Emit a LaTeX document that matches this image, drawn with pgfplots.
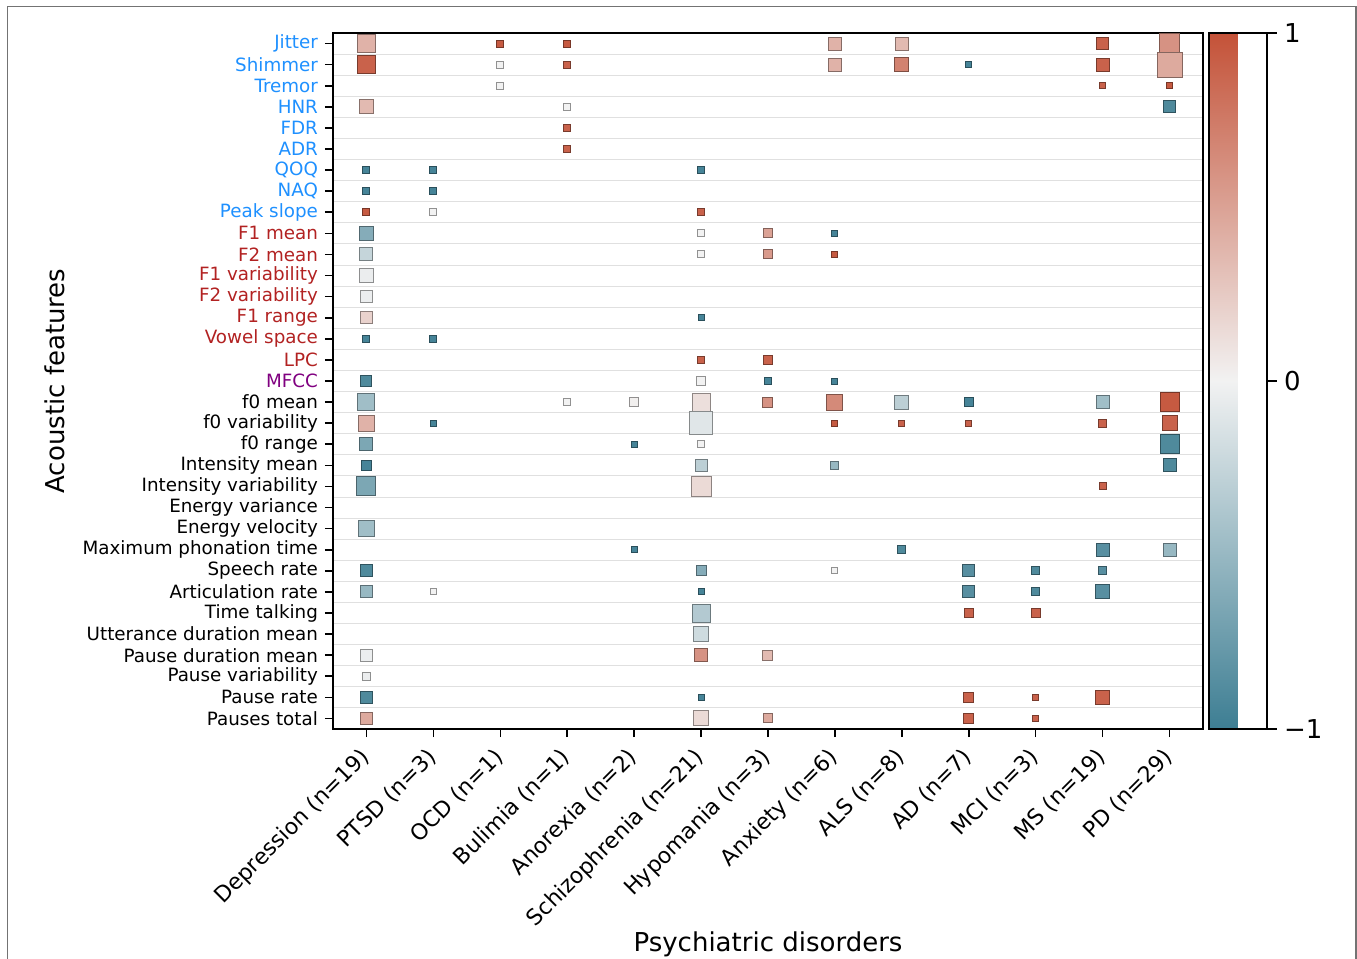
\documentclass[border=0pt]{standalone}
\usepackage{pgfplots}
\pgfplotsset{compat=1.18}
\usepackage{pgfplotstable}
\usepackage{fontspec}
\setmainfont{DejaVu Sans}

\definecolor{dodger}{RGB}{30,144,255}
\definecolor{fbrick}{RGB}{178,34,34}
\definecolor{purp}{RGB}{128,0,128}

% x = disorder, y = feature row (0 = Jitter), v = value, s = square side (px)
\pgfplotstableread{
x y v s
0 0 0.4 18
2 0 0.95 7
3 0 0.95 7
7 0 0.4 13
8 0 0.35 13
11 0 0.9 12
12 0 0.6 20
0 1 0.9 18
2 1 0.0 7
3 1 0.9 7
7 1 0.4 13
8 1 0.7 14
9 1 -0.95 6
11 1 0.9 13
12 1 0.45 25
2 2 0.0 7
11 2 0.9 6
12 2 0.95 6
0 3 0.35 14
3 3 0.0 7
12 3 -0.9 12
3 4 0.9 7
3 5 0.9 7
0 6 -0.95 7
1 6 -0.95 7
5 6 -0.95 7
0 7 -0.95 7
1 7 -0.95 7
0 8 0.95 7
1 8 0.0 7
5 8 0.9 7
0 9 -0.6 14
5 9 0.0 7
6 9 0.5 9
7 9 -0.95 6
0 10 -0.25 13
5 10 0.0 7
6 10 0.55 9
7 10 0.95 6
0 11 -0.04 14
0 12 -0.03 12
0 13 0.2 12
5 13 -0.95 6
0 14 -0.95 7
1 14 -0.95 7
5 15 0.9 7
6 15 0.9 9
0 16 -0.9 11
5 16 0.0 9
6 16 -0.95 7
7 16 -0.95 6
0 17 -0.45 17
3 17 0.0 7
4 17 0.02 9
5 17 0.12 18
6 17 0.6 10
7 17 0.65 16
8 17 -0.3 14
9 17 -0.95 9
11 17 -0.45 13
12 17 0.95 19
0 18 0.4 16
1 18 -0.95 6
5 18 -0.1 23
7 18 0.95 6
8 18 0.9 6
9 18 0.9 6
11 18 0.9 8
12 18 0.9 15
0 19 -0.65 13
4 19 -0.95 6
5 19 0.0 7
12 19 -0.9 19
0 20 -0.95 10
5 20 -0.3 12
7 20 -0.5 8
12 20 -0.9 13
0 21 -0.65 19
5 21 0.15 20
11 21 0.9 7
0 23 -0.45 16
4 24 -0.95 6
8 24 -0.9 8
11 24 -0.85 13
12 24 -0.5 13
0 25 -0.9 12
5 25 -0.6 10
7 25 0.0 6
9 25 -0.85 12
10 25 -0.9 8
11 25 -0.85 8
0 26 -0.5 12
1 26 0.0 6
5 26 -0.95 6
9 26 -0.85 12
10 26 -0.9 8
11 26 -0.85 14
5 27 -0.35 18
9 27 0.9 9
10 27 0.9 9
5 28 -0.2 15
0 29 -0.03 12
5 29 0.6 13
6 29 0.35 10
0 30 -0.03 8
0 31 -0.9 12
5 31 -0.95 6
9 31 0.9 10
10 31 0.9 6
11 31 0.9 14
0 32 0.45 12
5 32 0.15 15
6 32 0.45 9
9 32 0.9 10
10 32 0.9 6
}\data

\begin{document}
\begin{tikzpicture}
\begin{axis}[
    at={(0,0)}, anchor=south west,
    scale only axis,
    width=435pt, height=348pt,
    xmin=-0.5, xmax=12.5,
    ymin=-0.5, ymax=32.5,
    y dir=reverse,
    axis line style={line width=1.1pt},
    every tick/.style={black, line width=0.8pt},
    major tick length=4pt,
    tick align=outside,
    xtick pos=bottom, ytick pos=left,
    xtick={0,...,12}, ytick={0,...,32},
    minor ytick={-0.5,0.5,...,32.5},
    minor tick length=0pt,
    yminorgrids,
    minor grid style={black!12, line width=0.5pt},
    yticklabel style={font=\fontsize{9.15}{11}\selectfont},
    xticklabel style={font=\fontsize{11}{13}\selectfont, xshift=-4pt, yshift=-3pt, rotate=45, anchor=north east, inner sep=1pt},
    xticklabels={{Depression (n=19)},{PTSD (n=3)},{OCD (n=1)},{Bulimia (n=1)},{Anorexia (n=2)},{Schizophrenia (n=21)},{Hypomania (n=3)},{Anxiety (n=6)},{ALS (n=8)},{AD (n=7)},{MCI (n=3)},{MS (n=19)},{PD (n=29)}},
    yticklabels={
        {\textcolor{dodger}{Jitter}},
        {\textcolor{dodger}{Shimmer}},
        {\textcolor{dodger}{Tremor}},
        {\textcolor{dodger}{HNR}},
        {\textcolor{dodger}{FDR}},
        {\textcolor{dodger}{ADR}},
        {\textcolor{dodger}{QOQ}},
        {\textcolor{dodger}{NAQ}},
        {\textcolor{dodger}{Peak slope}},
        {\textcolor{fbrick}{F1 mean}},
        {\textcolor{fbrick}{F2 mean}},
        {\textcolor{fbrick}{F1 variability}},
        {\textcolor{fbrick}{F2 variability}},
        {\textcolor{fbrick}{F1 range}},
        {\textcolor{fbrick}{Vowel space}},
        {\textcolor{fbrick}{LPC}},
        {\textcolor{purp}{MFCC}},
        {f0 mean},
        {f0 variability},
        {f0 range},
        {Intensity mean},
        {Intensity variability},
        {Energy variance},
        {Energy velocity},
        {Maximum phonation time},
        {Speech rate},
        {Articulation rate},
        {Time talking},
        {Utterance duration mean},
        {Pause duration mean},
        {Pause variability},
        {Pause rate},
        {Pauses total}},
    xlabel={Psychiatric disorders},
    ylabel={Acoustic features},
    label style={font=\fontsize{13}{15.6}\selectfont},
    xlabel style={at={(axis description cs:0.5,-0.309)}, anchor=center},
    ylabel style={at={(axis description cs:-0.3195,0.5)}, anchor=center, rotate=0},
    colormap={divmap}{rgb255(0cm)=(61,126,147); rgb255(1cm)=(242,242,242); rgb255(2cm)=(196,82,56)},
    point meta min=-1, point meta max=1,
    colorbar,
    colorbar shift/.style={xshift=3pt},
    colorbar style={
        at={(parent axis.north east)}, anchor=north west,
        width=29pt,
        axis line style={line width=1.1pt},
        every tick/.style={black, line width=0.8pt},
        major tick length=5pt,
        tick align=outside,
        ytick pos=right, yticklabel pos=right,
        ytick={-1,0,1},
        yticklabels={−1,0,1},
        yticklabel style={font=\fontsize{13}{15.6}\selectfont},
    },
]
\addplot[
    scatter, only marks, mark=square*,
    scatter src=explicit,
    scatter/use mapped color={draw=mapped color!60!black, fill=mapped color},
    visualization depends on={0.25*\thisrow{s} \as \msize},
    scatter/@pre marker code/.append style={/tikz/mark size=\msize},
    mark options={line width=0.5pt},
] table[x=x, y=y, meta=v] {\data};
\end{axis}
\pgfresetboundingbox
\useasboundingbox (-166.5pt,-115pt) rectangle (512pt,364.5pt);
\draw[line width=0.8pt, black!55] (-162.75pt,-120pt) -- (-162.75pt,361.25pt) -- (511.35pt,361.25pt) -- (511.35pt,-120pt);
\end{tikzpicture}
\end{document}
